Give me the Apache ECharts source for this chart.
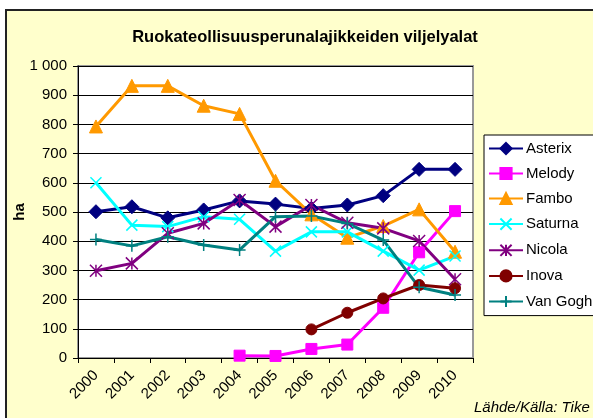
<!DOCTYPE html>
<html>
<head>
<meta charset="utf-8">
<script src="https://cdn.jsdelivr.net/npm/echarts@6/dist/echarts.min.js"></script>
<style>
  html, body { margin: 0; padding: 0; background: #fff; overflow: hidden; }
  #chart { width: 593px; height: 418px; }
</style>
</head>
<body>
<div id="chart"></div>
<script>
// vuodet / years
const years = ["2000", "2001", "2002", "2003", "2004", "2005", "2006", "2007", "2008", "2009", "2010"];

// hehtaarit lajikkeittain
const asterix = [501, 518, 480, 507, 538, 527, 512, 524, 556, 646, 646];
const melody = [null, null, null, null, 8, 7, 31, 46, 172, 362, 503];
const fambo = [793, 932, 932, 864, 836, 607, 492, 412, 452, 509, 364];
const saturna = [600, 455, 450, 484, 475, 366, 432, 432, 366, 301, 349];
const nicola = [299, 324, 427, 461, 541, 450, 524, 463, 444, 401, 270];
const inova = [null, null, null, null, null, null, 98, 155, 204, 250, 239];
const vanGogh = [406, 384, 415, 387, 370, 484, 486, 461, 404, 242, 216];

const yTicks = { min: 0, max: 1000, step: 100 };

const FONT = "'Liberation Sans', Arial, sans-serif";

const chart = echarts.init(document.getElementById("chart"), null, { renderer: "canvas" });

function line(name, data, color, symbol, size) {
  return {
    name: name,
    type: "line",
    data: data,
    color: color,
    symbol: symbol,
    symbolSize: size,
    lineStyle: { width: 3, color: color },
    itemStyle: { color: color, borderColor: color, borderWidth: 1 },
    emphasis: { disabled: true },
    animation: false
  };
}

// x- ja asteriski-merkit piirretaan polkuina
const crossPath = "path://M0,0L10,10M10,0L0,10";
const starPath = "path://M0,0L10,10M10,0L0,10M5,0L5,10";
const plusPath = "path://M5,0L5,10M0,5L10,5";

const series = [
  line("Asterix", asterix, "#000080", "diamond", 14),
  line("Melody", melody, "#FF00FF", "rect", 11),
  line("Fambo", fambo, "#FF9900", "triangle", 13),
  line("Saturna", saturna, "#00FFFF", crossPath, 11),
  line("Nicola", nicola, "#800080", starPath, 12),
  line("Inova", inova, "#800000", "circle", 11),
  line("Van Gogh", vanGogh, "#008080", plusPath, 12)
];
// viivamaiset merkit: vain reunaviiva
[3, 4, 6].forEach(i => {
  series[i].itemStyle = { color: "none", borderColor: series[i].color, borderWidth: 1.5 };
});

const option = {
  backgroundColor: "transparent",
  animation: false,
  graphic: [
    {
      type: "rect",
      z: -10,
      silent: true,
      shape: { x: 6, y: 10, width: 640, height: 460 },
      style: { fill: "#FFFFCC", stroke: "#222", lineWidth: 2 }
    },
    {
      type: "text",
      left: 474,
      top: 400,
      silent: true,
      style: {
        text: "Lähde/Källa: Tike",
        font: "italic 15px " + FONT,
        fill: "#000"
      }
    }
  ],
  title: {
    text: "Ruokateollisuusperunalajikkeiden viljelyalat",
    left: 300,
    textAlign: "center",
    top: 24,
    textStyle: {
      fontFamily: FONT,
      fontSize: 16.5,
      fontWeight: "bold",
      color: "#000"
    }
  },
  legend: {
    orient: "vertical",
    left: 484,
    top: 135,
    itemWidth: 34,
    itemHeight: 14,
    itemGap: 10,
    padding: [6, 40, 6, 4],
    backgroundColor: "#fff",
    borderColor: "#000",
    borderWidth: 1,
    borderRadius: 0,
    textStyle: {
      fontFamily: FONT,
      fontSize: 15,
      lineHeight: 14,
      color: "#000",
      padding: [0, 0, 0, -2]
    },
    data: series.map(s => s.name)
  },
  grid: {
    left: 78,
    top: 66,
    right: 120,
    bottom: 60,
    containLabel: false,
    outerBoundsMode: "none",
    show: true,
    backgroundColor: "#fff",
    borderColor: "#999",
    borderWidth: 2
  },
  xAxis: {
    type: "category",
    boundaryGap: true,
    data: years,
    axisLine: { lineStyle: { color: "#000", width: 1 } },
    axisTick: { show: true, length: 5, interval: 0, lineStyle: { color: "#000" } },
    axisLabel: {
      interval: 0,
      rotate: 45,
      margin: 15,
      color: "#000",
      fontFamily: FONT,
      fontSize: 15
    },
    splitLine: { show: false }
  },
  yAxis: {
    type: "value",
    name: "ha",
    nameLocation: "middle",
    nameGap: 51,
    nameMoveOverlap: false,
    nameRotate: 90,
    nameTextStyle: {
      fontFamily: FONT,
      fontSize: 15,
      fontWeight: "bold",
      color: "#000"
    },
    min: yTicks.min,
    max: yTicks.max,
    interval: yTicks.step,
    axisLine: { show: true, lineStyle: { color: "#000", width: 1 } },
    axisTick: { show: true, length: 5, lineStyle: { color: "#000" } },
    axisLabel: {
      margin: 11,
      color: "#000",
      fontFamily: FONT,
      fontSize: 15,
      formatter: v => String(v).replace(/\B(?=(\d{3})+(?!\d))/g, " ")
    },
    splitLine: { show: true, lineStyle: { color: "#000", width: 1 } }
  },
  series: series
};

chart.setOption(option);
</script>
</body>
</html>
